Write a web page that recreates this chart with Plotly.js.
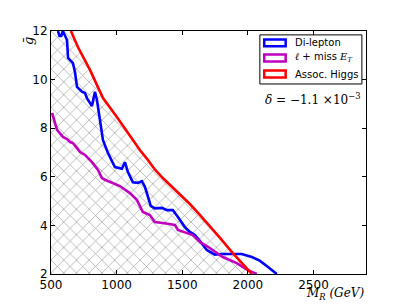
<!DOCTYPE html>
<html>
<head>
<meta charset="utf-8">
<script src="https://cdn.plot.ly/plotly-3.0.1.min.js"></script>
<style>html,body{margin:0;padding:0;background:#fff;}#plot{width:407px;height:305px;}</style>
</head>
<body>
<div id="plot"></div>
<script>
// Axis ranges and ticks
const xRange = [500, 2900];
const yRange = [2, 12];
const xTicks = [500, 1000, 1500, 2000, 2500];
const yTicks = [2, 4, 6, 8, 10, 12];

// Di-lepton (blue)
const dilepX = [553, 565, 578, 590, 622, 630, 667, 683, 698, 736, 759, 774, 812, 835, 850, 873, 896, 934, 987, 1040, 1063, 1086, 1124, 1162, 1192, 1215, 1240, 1260, 1291, 1345, 1383, 1428, 1467, 1497, 1520, 1558, 1596, 1634, 1687, 1748, 1800, 1885, 1953, 2030, 2090, 2151, 2205, 2220];
const dilepY = [12, 11.8, 11.8, 12, 11.63, 10.89, 10.68, 10.3, 9.7, 9.5, 9.45, 9.24, 8.91, 9.5, 9.16, 8.34, 7.51, 6.98, 6.4, 6.33, 6.6, 6.2, 5.77, 5.75, 5.82, 5.6, 5.1, 4.8, 4.7, 4.72, 4.63, 4.63, 4.35, 4.1, 3.93, 3.73, 3.6, 3.37, 2.99, 2.8, 2.82, 2.82, 2.82, 2.7, 2.55, 2.3, 2.04, 2.0];

// l + missing E_T (magenta)
const lepMetX = [508, 530, 546, 591, 622, 645, 667, 698, 721, 759, 782, 812, 858, 888, 911, 964, 1025, 1048, 1101, 1154, 1200, 1253, 1291, 1352, 1444, 1467, 1535, 1581, 1634, 1710, 1809, 1915, 1999, 2068];
const lepMetY = [8.63, 8.2, 7.93, 7.64, 7.55, 7.43, 7.39, 7.18, 7.02, 6.9, 6.77, 6.6, 6.28, 5.95, 5.88, 5.77, 5.62, 5.53, 5.33, 5.05, 4.55, 4.43, 4.14, 4.1, 4.02, 3.81, 3.68, 3.6, 3.32, 3.07, 2.7, 2.45, 2.16, 2.0];

// Associated Higgs (red)
const higgsX = [652, 705, 797, 896, 1002, 1080, 1177, 1230, 1291, 1352, 1467, 1558, 1634, 1733, 1786, 1885, 2014, 2030];
const higgsY = [12, 11.34, 10.4, 9.24, 8.46, 7.85, 7.1, 6.75, 6.3, 5.95, 5.37, 4.88, 4.43, 3.83, 3.5, 2.86, 2.08, 2.0];

const legendNames = ['Di-lepton', '<span style="font-family:\'DejaVu Serif\'"><i>ℓ</i></span> + miss <span style="font-family:\'DejaVu Serif\'"><i>E</i><sub><i>T</i></sub></span>', 'Assoc. Higgs'];
const colors = ['#0000ff', '#bf00bf', '#ff0000'];

const hatch = {
  x: [xRange[0]].concat(higgsX, [xRange[0]]),
  y: [yRange[1]].concat(higgsY, [yRange[0]]),
  type: 'scatter', mode: 'none', fill: 'toself',
  fillcolor: 'rgba(0,0,0,0)',
  fillpattern: {shape: 'x', fgcolor: '#a0a0a0', bgcolor: 'rgba(255,255,255,0)', size: 9, solidity: 0.15},
  hoverinfo: 'skip', showlegend: false
};
const lineStyle = c => ({color: c, width: 2.6});
const traces = [
  hatch,
  {x: dilepX, y: dilepY, type: 'scatter', mode: 'lines', line: lineStyle(colors[0]), showlegend: false},
  {x: lepMetX, y: lepMetY, type: 'scatter', mode: 'lines', line: lineStyle(colors[1]), showlegend: false},
  {x: higgsX, y: higgsY, type: 'scatter', mode: 'lines', line: lineStyle(colors[2]), showlegend: false}
];

// manual legend (paper coords)
const rowY = [0.951, 0.889, 0.823];
const shapes = [{type: 'rect', xref: 'paper', yref: 'paper', x0: 0.663, x1: 0.987, y0: 0.782, y1: 0.984, line: {color: '#000', width: 1}, fillcolor: '#fff'}];
const annotations = [];
rowY.forEach((ry, i) => {
  shapes.push({type: 'rect', xref: 'paper', yref: 'paper', x0: 0.677, x1: 0.745, y0: ry - 0.014, y1: ry + 0.014, line: {color: colors[i], width: 2.5}, fillcolor: '#fff'});
  annotations.push({xref: 'paper', yref: 'paper', x: 0.768, y: ry, xanchor: 'left', yanchor: 'middle', showarrow: false, text: legendNames[i], font: {family: 'DejaVu Sans', size: 10, color: '#000'}});
});
annotations.push({xref: 'paper', yref: 'paper', x: 0.99, y: 0.722, xanchor: 'right', yanchor: 'middle', showarrow: false,
  text: '<i>δ</i> = −1.1 ×10<sup>−3</sup>', font: {family: 'DejaVu Serif', size: 12, color: '#000'}});
annotations.push({xref: 'paper', yref: 'paper', x: 1.0, y: -0.125, xanchor: 'right', yanchor: 'bottom', showarrow: false,
  text: '<i>M</i><sub><i>R</i></sub> <i>(GeV)</i>', font: {family: 'DejaVu Serif', size: 12, color: '#000'}});
annotations.push({xref: 'paper', yref: 'paper', x: -0.072, y: 0.96, xanchor: 'center', yanchor: 'middle', showarrow: false, textangle: -90,
  text: '<i>ḡ</i>', font: {family: 'DejaVu Serif', size: 13, color: '#000'}});

const axisCommon = {showgrid: false, zeroline: false, showline: true, linecolor: '#000', linewidth: 1, mirror: 'ticks',
  ticks: 'inside', ticklen: 4, tickcolor: '#000', tickfont: {family: 'DejaVu Sans', size: 12, color: '#000'}, fixedrange: true};

const layout = {
  width: 407, height: 305,
  margin: {l: 51, r: 41, t: 31, b: 31, pad: 0},
  paper_bgcolor: '#fff', plot_bgcolor: '#fff',
  showlegend: false,
  xaxis: Object.assign({}, axisCommon, {range: xRange, tickvals: xTicks, ticktext: xTicks.map(String)}),
  yaxis: Object.assign({}, axisCommon, {range: yRange, tickvals: yTicks, ticktext: yTicks.map(String)}),
  shapes: shapes,
  annotations: annotations
};
Plotly.newPlot('plot', traces, layout, {displayModeBar: false, staticPlot: true});
</script>
</body>
</html>
